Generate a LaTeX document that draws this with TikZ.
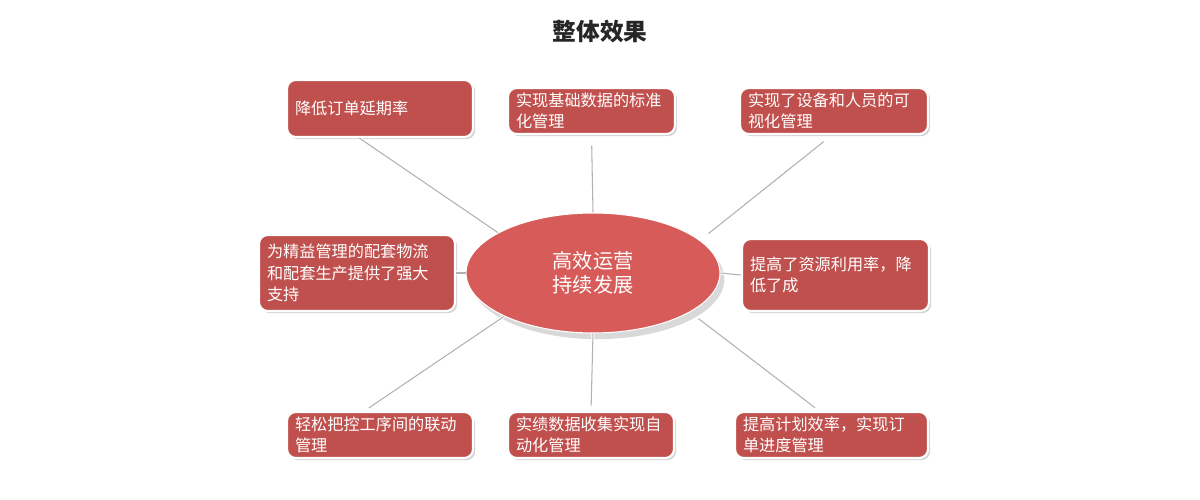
\documentclass[tikz,border=0pt]{standalone}
\usepackage{fontspec}
\setmainfont{Noto Sans CJK SC}
\usetikzlibrary{shapes.geometric,shadows}
\definecolor{boxred}{RGB}{192,80,77}
\definecolor{hubred}{RGB}{215,92,89}
\tikzset{
  box/.style={rectangle, rounded corners=5pt, fill=boxred, draw=white, line width=1.2pt,
    text=white, align=left, inner xsep=0.16cm, inner ysep=0pt,
    font=\fontsize{9.2}{12.2}\selectfont,
    drop shadow={shadow xshift=1.2pt, shadow yshift=-1.2pt, opacity=0.35}},
  hub/.style={ellipse, fill=hubred, draw=white, line width=0.6pt, text=white, align=center,
    minimum width=5.08cm, minimum height=2.4cm, inner sep=0pt,
    font=\fontsize{11.5}{13.5}\selectfont,
    drop shadow={shadow xshift=2.5pt, shadow yshift=-3.5pt, opacity=0.3}},
  link/.style={draw=white, double=gray!60, double distance=0.6pt, line width=0.6pt}
}
\begin{document}
\begin{tikzpicture}[x=0.02cm, y=-0.02cm]
          \useasboundingbox (0,0) rectangle (1200,500);
          \node[font=\fontsize{13.5}{16}\selectfont\bfseries, text=black!85] at (600,31) (title) {整体效果};
          \node[hub] at (593,273) (hub) {高效运营\\持续发展};
          \node[box, text width=3.4cm, minimum height=1.14cm] at (380,108.5) (b1) {降低订单延期率};
          \node[box, text width=3.02cm, minimum height=0.92cm] at (591.5,111) (b2) {实现基础数据的标准\\化管理};
          \node[box, text width=3.44cm, minimum height=0.92cm] at (834,111) (b3) {实现了设备和人员的可\\视化管理};
          \node[box, text width=3.6cm, minimum height=1.52cm] at (357,273) (b4) {为精益管理的配套物流\\和配套生产提供了强大\\支持};
          \node[box, text width=3.42cm, minimum height=1.44cm] at (835.5,275) (b5) {提高了资源利用率，降\\低了成};
          \node[box, text width=3.4cm, minimum height=0.92cm] at (380,435) (b6) {轻松把控工序间的联动\\管理};
          \node[box, text width=3.0cm, minimum height=0.92cm] at (591,435) (b7) {实绩数据收集实现自\\动化管理};
          \node[box, text width=3.54cm, minimum height=0.92cm] at (831.5,435) (b8) {提高计划效率，实现订\\单进度管理};
          \path (b1.235) edge[link] (hub.157);
          \path (b2.south) edge[link, shorten <=6pt] (hub.north);
          \path (b3.265) edge[link, shorten <=6pt, shorten >=6pt] (hub.17);
          \path (b4.east) edge[link] (hub.west);
          \path (b5.west) edge[link] (hub.east);
          \path (b6.123) edge[link, shorten <=3pt] (hub.206);
          \path (b7.north) edge[link, shorten <=3pt] (hub.south);
          \path (b8.117) edge[link, shorten <=3pt, shorten >=6pt] (hub.338);
        \end{tikzpicture}
\end{document}
